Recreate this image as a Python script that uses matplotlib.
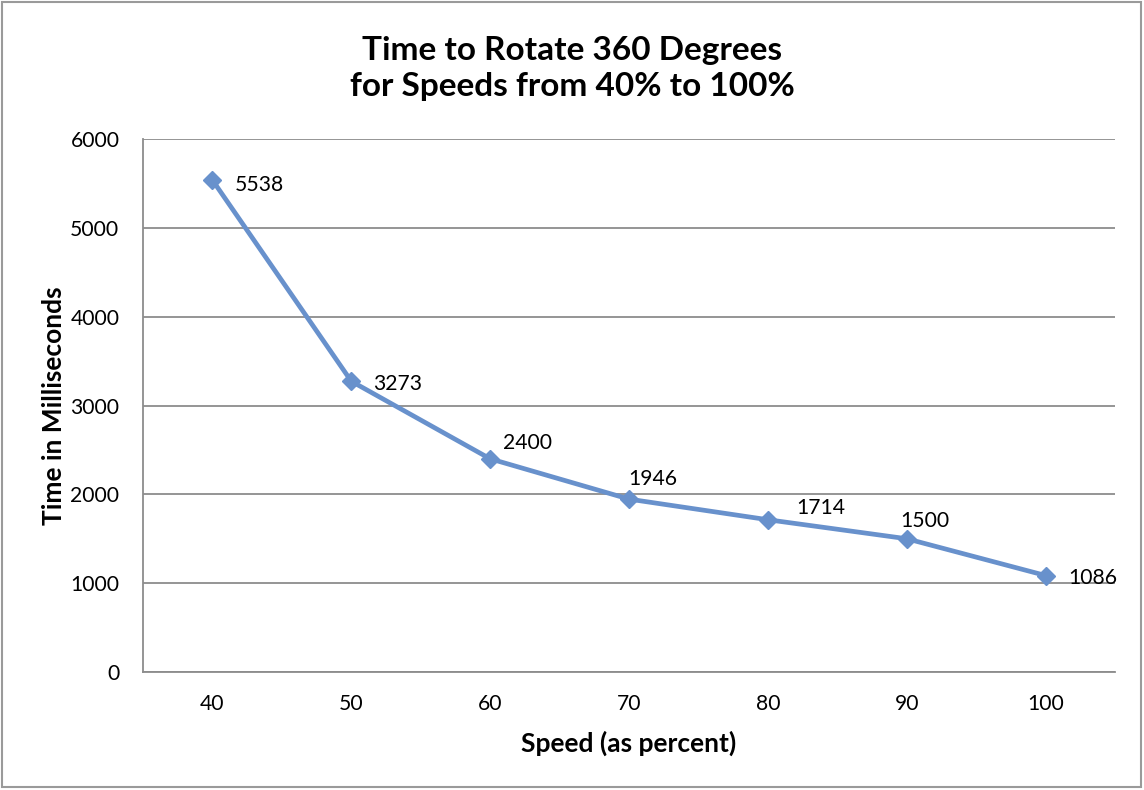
import matplotlib.pyplot as plt
from matplotlib.patches import Rectangle

speeds = ['40', '50', '60', '70', '80', '90', '100']
times = [5538, 3273, 2400, 1946, 1714, 1500, 1086]
# label offsets in pixels (dx, dy), Excel puts them around the line
label_offsets = [(22, -5), (22, -3), (13, 16), (-1, 20), (28, 12), (-6, 18), (23, -2)]

plt.rcParams['font.family'] = ['Lato', 'DejaVu Sans']

fig = plt.figure(figsize=(11.44, 7.90), dpi=100)
ax = fig.add_axes([0.125, 0.1494, 0.8497, 0.6746])

x = list(range(len(speeds)))
ax.plot(x, times, color='#6891CC', lw=3.4, marker='D', ms=9.5, zorder=3)
for i, v in enumerate(times):
    dx, dy = label_offsets[i]
    ax.annotate(str(v), (x[i], v), xytext=(dx, dy), textcoords='offset pixels',
                ha='left', va='center', fontsize=15.2, color='black', zorder=4)

ax.set_xlim(-0.5, len(speeds) - 0.5)
ax.set_ylim(0, 6000)
ax.set_yticks(range(0, 6001, 1000))
ax.set_xticks(x)
ax.set_xticklabels(speeds)
ax.tick_params(length=0, labelsize=15.2, colors='black')
ax.tick_params(axis='y', pad=17)
ax.tick_params(axis='x', pad=16)
ax.grid(axis='y', color='#8C8C8C', lw=1.3)
ax.set_axisbelow(True)
for s in ['top', 'right']:
    ax.spines[s].set_visible(False)
for s in ['left', 'bottom']:
    ax.spines[s].set_color('#8C8C8C')
    ax.spines[s].set_linewidth(1.3)

ax.set_xlabel('Speed (as percent)', fontsize=19, fontweight='bold', labelpad=12)
ax.set_ylabel('Time in Milliseconds', fontsize=19, fontweight='bold', labelpad=3)

fig.text(0.5, 0.913, 'Time to Rotate 360 Degrees\nfor Speeds from 40% to 100%',
         ha='center', va='center', fontsize=24, fontweight='bold', linespacing=1.3)

fig.patches.append(Rectangle((0.002, 0.004), 0.995, 0.993, transform=fig.transFigure,
                             fill=False, edgecolor='#9A9A9A', lw=1.5))

fig.savefig('out.png', dpi=100)
